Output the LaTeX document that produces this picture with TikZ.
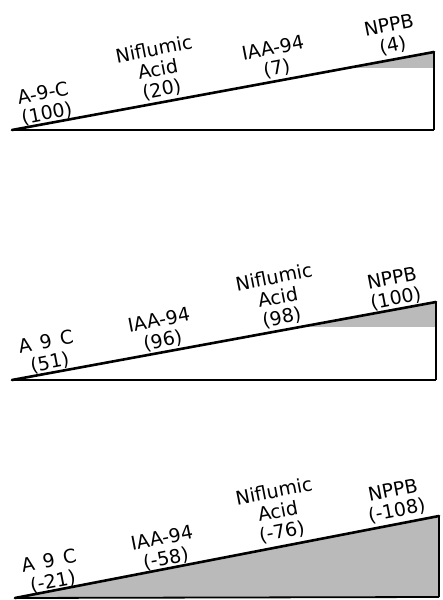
\documentclass[tikz,border=0pt]{standalone}
\usepackage{fontspec}
\setmainfont{DejaVu Sans}
\begin{document}
\begin{tikzpicture}[x=1pt,y=1pt,
  lbl/.style={align=center,rotate=11,inner sep=0pt,font=\fontsize{19}{20.5}\selectfont},
  shade/.style={fill=black!27,draw=none},
  topedge/.style={line width=2.6pt,line cap=round,line join=round},
  baseedge/.style={line width=1.8pt},
  sideedge/.style={line width=2.4pt}]
\useasboundingbox (0,0) rectangle (442,600);
% ---------- wedge 1 ----------
\coordinate (t1) at (12,470);
\coordinate (p1) at (434,548);
\coordinate (b1) at (434,470);
\coordinate (s1) at (346,532);
\coordinate (r1) at (434,532);
\fill[shade] (s1) -- (p1) -- (r1) -- cycle;
\draw[baseedge] (t1) -- (b1);
\draw[sideedge] (b1) -- (p1);
\draw[topedge] (t1) -- (p1);
\node[lbl] (a1) at (45,496) {A-9-C\\(100)};
\node[lbl] (n1) at (158,530) {Niflumic\\Acid\\(20)};
\node[lbl] (i1) at (275,541) {IAA-94\\(7)};
\node[lbl] (q1) at (391,564) {NPPB\\(4)};
% ---------- wedge 2 ----------
\coordinate (t2) at (12,220);
\coordinate (p2) at (436,298);
\coordinate (b2) at (436,220);
\coordinate (s2) at (300,273);
\coordinate (r2) at (436,273);
\fill[shade] (s2) -- (p2) -- (r2) -- cycle;
\draw[baseedge] (t2) -- (b2);
\draw[sideedge] (b2) -- (p2);
\draw[topedge] (t2) -- (p2);
\node[lbl] (a2) at (48,247) {A\hspace{0.45em}9\hspace{0.45em}C\\(51)};
\node[lbl] (i2) at (161,269) {IAA-94\\(96)};
\node[lbl] (n2) at (278,302) {Niflumic\\Acid\\(98)};
\node[lbl] (q2) at (394,311) {NPPB\\(100)};
% ---------- wedge 3 ----------
\coordinate (t3) at (15,2);
\coordinate (p3) at (439,84);
\coordinate (b3) at (439,3);
\fill[shade] (t3) -- (p3) -- (b3) -- cycle;
\draw[baseedge] (t3) -- (b3);
\draw[sideedge] (b3) -- (p3);
\draw[topedge] (t3) -- (p3);
\node[lbl] (a3) at (51,28) {A\hspace{0.45em}9\hspace{0.45em}C\\(-21)};
\node[lbl] (i3) at (164,51) {IAA-94\\(-58)};
\node[lbl] (n3) at (278,88) {Niflumic\\Acid\\(-76)};
\node[lbl] (q3) at (395,99) {NPPB\\(-108)};
\end{tikzpicture}
\end{document}
